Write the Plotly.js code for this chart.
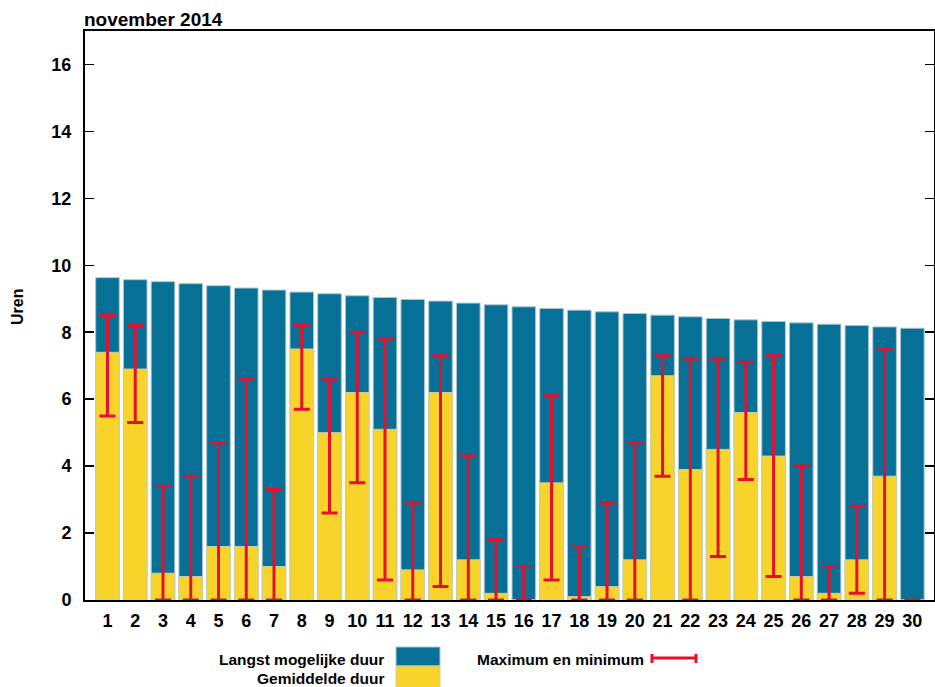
<!DOCTYPE html>
<html>
<head>
<meta charset="utf-8">
<script src="https://cdn.plot.ly/plotly-3.0.1.min.js"></script>
<style>html,body{margin:0;padding:0;background:#fff;}#chart{width:935px;height:687px;}</style>
</head>
<body>
<div id="chart"></div>
<script>
// Days of November 2014
var days = [1,2,3,4,5,6,7,8,9,10,11,12,13,14,15,16,17,18,19,20,21,22,23,24,25,26,27,28,29,30];
// Longest possible duration (day length, hours)
var langst = [9.63,9.57,9.51,9.45,9.39,9.32,9.26,9.20,9.15,9.09,9.04,8.98,8.93,8.87,8.82,8.76,8.71,8.66,8.61,8.56,8.51,8.46,8.41,8.37,8.32,8.28,8.24,8.20,8.16,8.12];
// Average sunshine duration (hours)
var gemiddeld = [7.4,6.9,0.8,0.7,1.6,1.6,1.0,7.5,5.0,6.2,5.1,0.9,6.2,1.2,0.2,0.0,3.5,0.1,0.4,1.2,6.7,3.9,4.5,5.6,4.3,0.7,0.2,1.2,3.7,0.0];
// Maximum and minimum
var maximum = [8.5,8.2,3.4,3.7,4.7,6.6,3.3,8.2,6.6,8.0,7.8,2.9,7.3,4.3,1.8,1.0,6.1,1.6,2.9,4.7,7.3,7.2,7.2,7.1,7.3,4.0,1.0,2.8,7.5,0.0];
var minimum = [5.5,5.3,0.0,0.0,0.0,0.0,0.0,5.7,2.6,3.5,0.6,0.0,0.4,0.0,0.0,0.0,0.6,0.0,0.0,0.0,3.7,0.0,1.3,3.6,0.7,0.0,0.0,0.2,0.0,0.0];
var yTicks = [0,2,4,6,8,10,12,14,16];

var BLUE = '#067096', YELLOW = '#f8d42a', RED = '#e60f2d', EDGE = '#a8c6d2';
var FONT = 'Liberation Sans, Arial, sans-serif';

var span = maximum.map(function(v,i){ return v - minimum[i]; });
var zeros = days.map(function(){ return 0; });

var traces = [
  {type:'bar', x:days, y:langst, marker:{color:BLUE, line:{color:EDGE, width:1}}, hoverinfo:'skip', showlegend:false},
  {type:'bar', x:days, y:gemiddeld, marker:{color:YELLOW, line:{color:'#c8cfa8', width:1}}, hoverinfo:'skip', showlegend:false},
  {type:'scatter', mode:'markers', x:days, y:minimum, marker:{opacity:0, size:1},
   error_y:{type:'data', symmetric:false, array:span, arrayminus:zeros, color:RED, thickness:3, width:8, visible:true},
   cliponaxis:false, hoverinfo:'skip', showlegend:false}
];

function px(x){ return (x-85)/849; }
function py(y){ return (600-y)/569; }

var layout = {
  width:935, height:687,
  margin:{l:85, r:1, t:31, b:87},
  paper_bgcolor:'#fff', plot_bgcolor:'#fff',
  barmode:'overlay', bargap:0.15,
  font:{family:FONT, size:16, color:'#000'},
  title:{text:'<b>november 2014</b>', x:84/935, xanchor:'left', xref:'container', y:1-19/687, yanchor:'middle', yref:'container', font:{family:FONT, size:19, color:'#000'}},
  xaxis:{range:[0.19,30.78], tickvals:days, ticktext:days.map(function(d){return '<b>'+d+'</b>';}), ticks:'', showline:true, linecolor:'#000', linewidth:2, mirror:true, showgrid:false, zeroline:false, ticklabelstandoff:3, tickfont:{family:FONT, size:18, color:'#000'}},
  yaxis:{range:[0,17], tickvals:yTicks, ticktext:yTicks.map(function(t){return '<b>'+t+'</b>';}), ticks:'inside', ticklen:9, tickwidth:1.5, tickcolor:'#000', showline:true, linecolor:'#000', linewidth:2, mirror:'ticks', showgrid:false, zeroline:false, ticklabelstandoff:8, tickfont:{family:FONT, size:18, color:'#000'}},
  annotations:[
    {text:'<b>Uren</b>', xref:'paper', yref:'paper', x:px(17), y:py(307), textangle:-90, showarrow:false, font:{family:FONT, size:16, color:'#000'}, xanchor:'center', yanchor:'middle'},
    {text:'<b>Langst mogelijke duur</b>', xref:'paper', yref:'paper', x:px(386), y:py(659), xanchor:'right', yanchor:'middle', showarrow:false, font:{family:FONT, size:15.5, color:'#000'}},
    {text:'<b>Gemiddelde duur</b>', xref:'paper', yref:'paper', x:px(386), y:py(678), xanchor:'right', yanchor:'middle', showarrow:false, font:{family:FONT, size:15.5, color:'#000'}},
    {text:'<b>Maximum en minimum</b>', xref:'paper', yref:'paper', x:px(475), y:py(659), xanchor:'left', yanchor:'middle', showarrow:false, font:{family:FONT, size:15.5, color:'#000'}}
  ],
  shapes:[
    {type:'rect', xref:'paper', yref:'paper', x0:px(396), x1:px(440), y0:py(647), y1:py(666), fillcolor:BLUE, line:{color:EDGE, width:1}},
    {type:'rect', xref:'paper', yref:'paper', x0:px(396), x1:px(440), y0:py(666), y1:py(688), fillcolor:YELLOW, line:{color:'#c8cfa8', width:1}},
    {type:'line', xref:'paper', yref:'paper', x0:px(651), x1:px(697), y0:py(658), y1:py(658), line:{color:RED, width:3}},
    {type:'line', xref:'paper', yref:'paper', x0:px(652), x1:px(652), y0:py(654), y1:py(663), line:{color:RED, width:3}},
    {type:'line', xref:'paper', yref:'paper', x0:px(696), x1:px(696), y0:py(654), y1:py(663), line:{color:RED, width:3}}
  ]
};

Plotly.newPlot('chart', traces, layout, {staticPlot:true, displayModeBar:false});
</script>
</body>
</html>
